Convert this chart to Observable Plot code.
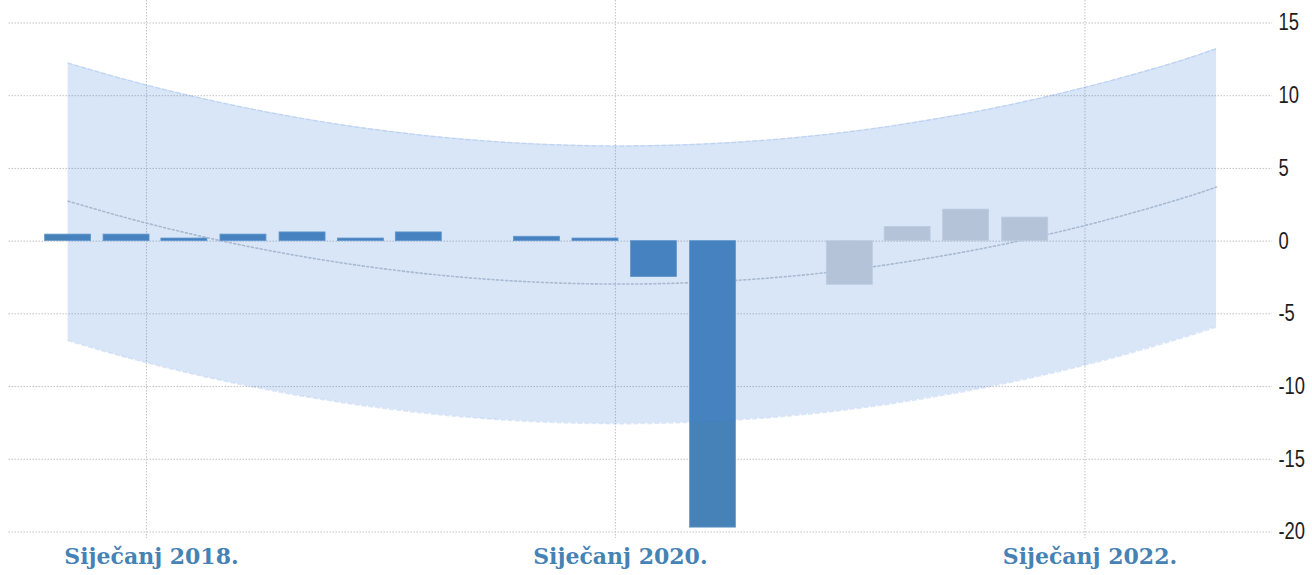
<!DOCTYPE html>
<html>
<head>
<meta charset="utf-8">
<script src="https://cdn.jsdelivr.net/npm/d3@7"></script>
<script src="https://cdn.jsdelivr.net/npm/@observablehq/plot@0.6"></script>
<style>
  html, body { margin: 0; padding: 0; background: #fff; }
  #chart svg { display: block; }
</style>
</head>
<body>
<div id="chart"></div>
<script>
// Actual quarterly values (blue bars)
const actualDates = ["2017-09-01","2017-12-01","2018-03-01","2018-06-01","2018-09-01","2018-12-01","2019-03-01","2019-09-01","2019-12-01","2020-03-01","2020-06-01"];
const actualValues = [0.45, 0.45, 0.18, 0.45, 0.6, 0.18, 0.6, 0.3, 0.18, -2.47, -19.7];

// Forecast values (grey bars)
const forecastDates = ["2020-12-31","2021-03-31","2021-06-30","2021-09-30"];
const forecastValues = [-3.0, 0.98, 2.17, 1.62];

// Trend line and band
const bandDates = ["2017-09-01","2017-12-01","2018-03-01","2018-06-01","2018-09-01","2018-12-01","2019-03-01","2019-06-01","2019-09-01","2019-12-01","2020-03-01","2020-06-01","2020-09-01","2020-12-01","2021-03-01","2021-06-01","2021-09-01","2021-12-01","2022-03-01","2022-06-01","2022-07-25"];
const trendValues = [2.75, 1.6, 0.6, -0.3, -1.06, -1.69, -2.19, -2.57, -2.82, -2.94, -2.93, -2.79, -2.52, -2.13, -1.61, -0.95, -0.17, 0.74, 1.76, 2.94, 3.72];
const upperValues = [12.25, 11.1, 10.1, 9.2, 8.44, 7.81, 7.31, 6.93, 6.68, 6.56, 6.57, 6.71, 6.98, 7.37, 7.89, 8.55, 9.33, 10.24, 11.26, 12.44, 13.24];
const lowerValues = [-6.85, -8.0, -9.0, -9.9, -10.66, -11.29, -11.79, -12.17, -12.42, -12.54, -12.53, -12.39, -12.12, -11.73, -11.21, -10.55, -9.77, -8.86, -7.84, -6.66, -5.9];

// Axis ticks
const xTickDates = ["2018-01-01","2020-01-01","2022-01-01"];
const xTickLabels = ["Siječanj 2018.","Siječanj 2020.","Siječanj 2022."];
const yTicks = [15, 10, 5, 0, -5, -10, -15, -20];

const parse = d3.utcParse("%Y-%m-%d");
const actual = actualDates.map((d, i) => ({date: parse(d), value: actualValues[i]}));
const forecast = forecastDates.map((d, i) => ({date: parse(d), value: forecastValues[i]}));
const band = bandDates.map((d, i) => ({date: parse(d), trend: trendValues[i], upper: upperValues[i], lower: lowerValues[i]}));
const xTicks = xTickDates.map(parse);

const halfBar = 35.8 * 864e5; // half bar width in ms
const bx1 = d => new Date(+d.date - halfBar);
const bx2 = d => new Date(+d.date + halfBar);

const gridStyle = {stroke: "#c2c2c2", strokeWidth: 1, strokeDasharray: "1.5,1.5"};

const chart = Plot.plot({
  width: 1312,
  height: 575,
  marginLeft: 8.5,
  marginRight: 40,
  marginTop: 22.5,
  marginBottom: 43.5,
  x: {type: "utc", domain: [parse("2017-06-01"), parse("2022-10-20")]},
  y: {domain: [-20, 15]},
  marks: [
    Plot.ruleY(yTicks, {...gridStyle}),
    Plot.ruleX(xTicks, {...gridStyle, insetTop: -22.5, insetBottom: -6.5}),
    Plot.line(band, {x: "date", y: "trend", curve: "natural", stroke: "#c3c8cf", strokeWidth: 1.6, strokeDasharray: "2,2.5"}),
    Plot.rect(actual, {x1: bx1, x2: bx2, y1: 0, y2: "value", fill: "#4682b8", stroke: "#6a9ccc", strokeWidth: 0.8}),
    Plot.rect(forecast, {x1: bx1, x2: bx2, y1: 0, y2: "value", fill: "#d2d4d8", stroke: "#dcdee2", strokeWidth: 0.8}),
    Plot.areaY(band, {x: "date", y1: "lower", y2: "upper", curve: "natural", fill: "rgb(65,130,220)", fillOpacity: 0.2}),
    Plot.line(band, {x: "date", y: "upper", curve: "natural", stroke: "rgb(65,130,220)", strokeOpacity: 0.18, strokeDasharray: "4,3"}),
    Plot.line(band, {x: "date", y: "lower", curve: "natural", stroke: "rgb(65,130,220)", strokeOpacity: 0.18, strokeDasharray: "4,3"}),
    Plot.axisY(yTicks, {anchor: "right", tickSize: 0, tickPadding: 6, tickFormat: d => String(d), fontSize: 23, fontFamily: "'Liberation Sans', Arial, sans-serif", fill: "#1e1e1e", label: null, className: "yax"}),
    Plot.axisX(xTicks, {anchor: "bottom", tickSize: 0, tickPadding: 16, tickFormat: (d, i) => xTickLabels[i], fontSize: 22, fontWeight: "bold", fontFamily: "'DejaVu Serif', serif", fill: "#4682b4", label: null, dx: 5})
  ]
});
document.getElementById("chart").appendChild(chart);

// condense the y-axis digits horizontally (narrow face)
d3.select(chart).selectAll(".yax text").each(function() {
  const t = this.getAttribute("transform");
  if (t) {
    this.setAttribute("transform", t + " scale(0.8,1)");
  } else {
    const x = +(this.getAttribute("x") || 0), y = +(this.getAttribute("y") || 0);
    this.removeAttribute("x"); this.removeAttribute("y");
    this.setAttribute("transform", `translate(${x},${y}) scale(0.8,1)`);
  }
});
</script>
</body>
</html>
